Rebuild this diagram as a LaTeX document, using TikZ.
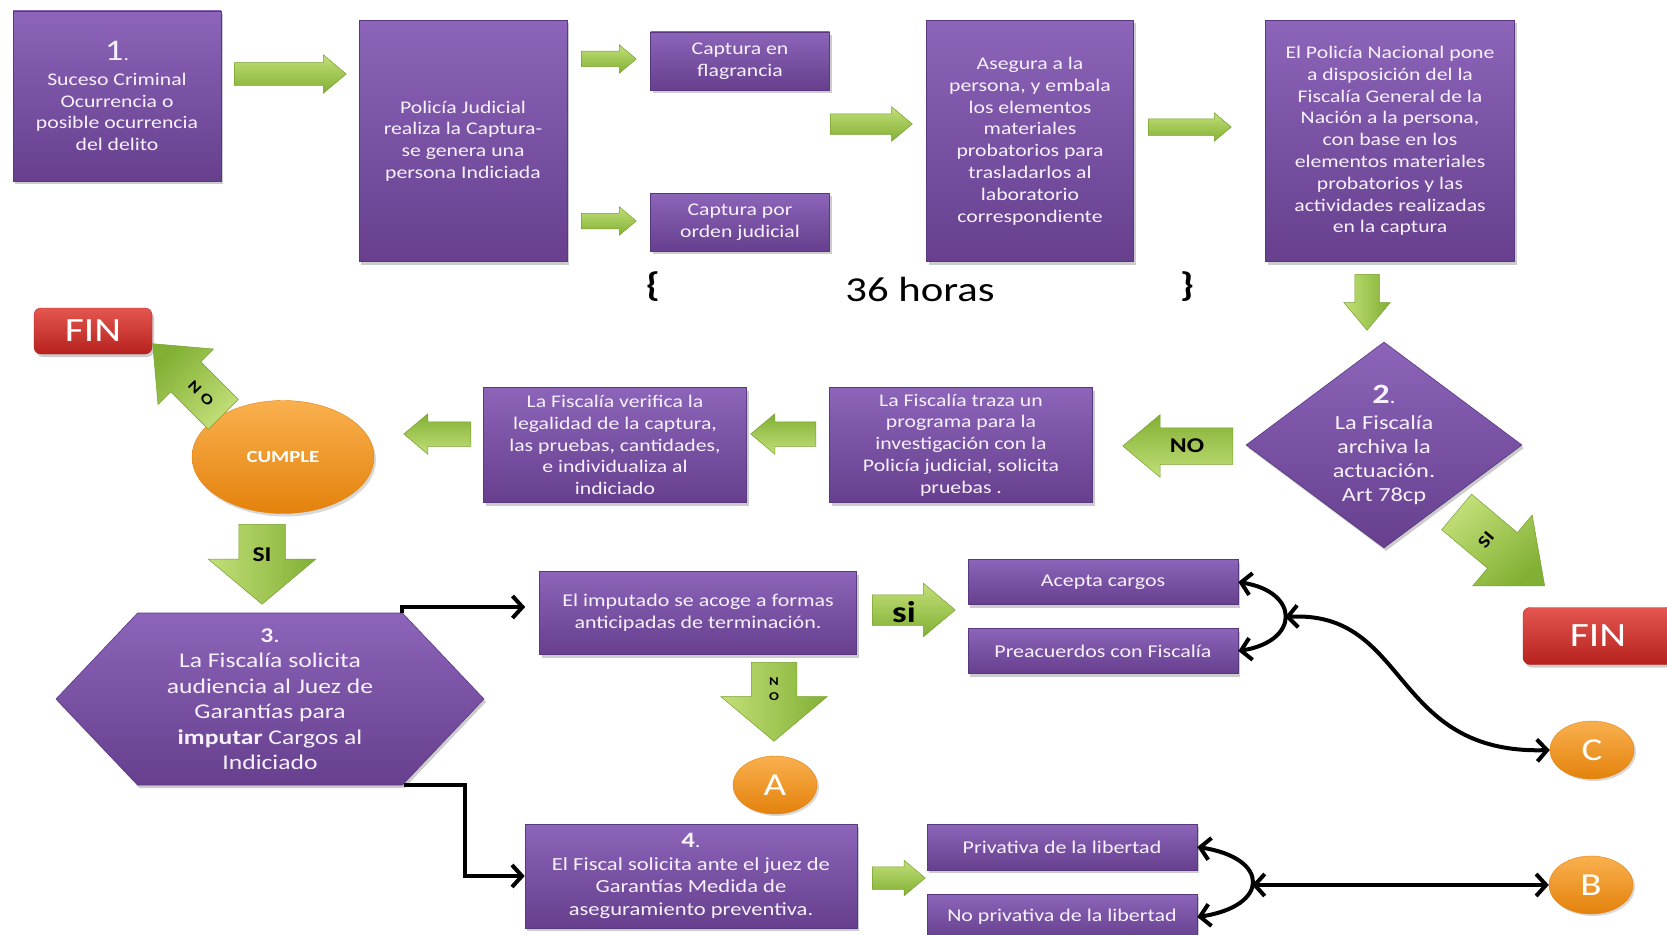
\documentclass[tikz,border=0pt]{standalone}
\usepackage{fontspec}
\setmainfont{Carlito}[FakeStretch=1.22]
\usetikzlibrary{shapes.geometric,shapes.arrows,shapes.symbols,shadows,arrows.meta,calc}

\definecolor{moradoalto}{HTML}{8C64B9}
\definecolor{moradobajo}{HTML}{673F8E}
\definecolor{moradoborde}{HTML}{5A3880}
\definecolor{textocaja}{HTML}{F6F1FB}
\definecolor{verdealto}{HTML}{C2DF78}
\definecolor{verdebajo}{HTML}{82B034}
\definecolor{verdeborde}{HTML}{76A02E}
\definecolor{naranjaalto}{HTML}{F9B04E}
\definecolor{naranjabajo}{HTML}{E4820C}
\definecolor{rojoalto}{HTML}{E4564F}
\definecolor{rojobajo}{HTML}{B6221E}

\tikzset{
  caja/.style 2 args={rectangle, draw=moradoborde, line width=0.6pt,
    top color=moradoalto, bottom color=moradobajo, text=textocaja,
    align=center, inner sep=2pt, minimum width=#1, minimum height=#2,
    drop shadow={shadow xshift=2pt, shadow yshift=-3pt, opacity=.4}},
  t18/.style={font=\fontsize{17.8}{21.8}\selectfont},
  flecha/.style n args={3}{single arrow, draw=verdeborde, line width=0.5pt,
    top color=verdealto, bottom color=verdebajo, minimum height=#1, minimum width=#2,
    inner xsep=0pt, inner ysep=#3/2, single arrow head extend={(#2-#3)/2},
    single arrow tip angle=80, single arrow head indent=0pt},
  rotulo/.style={font=\bfseries\fontsize{21}{21}\selectfont, text=black, inner sep=0pt},
  fin/.style={rectangle, rounded corners=7pt, draw=rojobajo, top color=rojoalto,
    bottom color=rojobajo, text=white, font=\fontsize{34}{34}\selectfont,
    minimum width=118pt, minimum height=46pt,
    drop shadow={shadow xshift=2pt, shadow yshift=-3pt, opacity=.4}},
  letra/.style={ellipse, draw=naranjabajo, top color=naranjaalto, bottom color=naranjabajo,
    text=white, font=\fontsize{32}{32}\selectfont, inner sep=0pt,
    minimum width=84pt, minimum height=58pt,
    drop shadow={shadow xshift=2pt, shadow yshift=-2pt, opacity=.3}},
  conector/.style={line width=4pt, -{Straight Barb[length=10pt,width=22pt]}},
  dobleconector/.style={line width=4pt, {Straight Barb[length=10pt,width=22pt]}-{Straight Barb[length=10pt,width=22pt]}}
}

\begin{document}
\begin{tikzpicture}[x=1pt,y=1pt]
\fill[white] (0,0) rectangle (1667,-934);
\useasboundingbox (0,0) rectangle (1667,-934);

\node[caja={208pt}{170pt},t18] (b1) at (117,-96)
  {{\fontsize{30}{30}\selectfont 1}.\\[3pt]Suceso Criminal\\Ocurrencia o\\posible ocurrencia\\del delito};
\node[caja={208pt}{241pt},t18] (b2) at (463,-141)
  {Policía Judicial\\realiza la Captura-\\se genera una\\persona Indiciada};
\node[caja={179pt}{58pt},t18] (flag) at (740,-61) {Captura en\\flagrancia};
\node[caja={179pt}{58pt},t18] (orden) at (740,-222) {Captura por\\orden judicial};
\node[caja={207pt}{241pt},t18] (aseg) at (1030,-141)
  {Asegura a la\\persona,  y embala\\los elementos\\materiales\\probatorios  para\\trasladarlos  al\\laboratorio\\correspondiente};
\node[caja={249pt}{241pt},t18] (pnac) at (1390,-141)
  {El Policía Nacional pone\\a disposición del la\\Fiscalía General de la\\Nación a la persona,\\con base en los\\elementos materiales\\probatorios  y las\\actividades realizadas\\en la captura};

\node[font=\fontsize{35}{35}\selectfont] (horas) at (920,-289) {36 horas};
\node[font=\bfseries\fontsize{34}{34}\selectfont] (llavei) at (653,-287) {\{};
\node[font=\bfseries\fontsize{34}{34}\selectfont] (llaved) at (1187,-287) {\}};

\node[flecha={112pt}{38pt}{22pt},anchor=tail] (f1) at (234,-74) {};
\node[flecha={55pt}{28pt}{15pt},anchor=tail] (f2a) at (581,-59) {};
\node[flecha={55pt}{28pt}{15pt},anchor=tail] (f2b) at (581,-221) {};
\node[flecha={82pt}{34pt}{20pt},anchor=tail] (f3) at (830,-124) {};
\node[flecha={83pt}{28pt}{16pt},anchor=tail] (f4) at (1148,-127) {};
\node[flecha={56pt}{46pt}{24pt},rotate=-90,shading angle=90,anchor=tail] (f5) at (1367,-274) {};

\node[diamond, draw=moradoborde, line width=0.6pt, top color=moradoalto, bottom color=moradobajo,
  text=textocaja, align=center, inner sep=0pt, aspect=1.34, minimum width=276pt, minimum height=206pt,
  font=\fontsize{20}{24}\selectfont,
  drop shadow={shadow xshift=2pt, shadow yshift=-3pt, opacity=.4}] (d2) at (1384,-445)
  {{\bfseries\fontsize{28}{28}\selectfont 2}.\\[2pt]La Fiscalía\\archiva la\\actuación.\\Art 78cp};

\node[flecha={110pt}{62pt}{36pt},rotate=180,shading angle=180,anchor=tail] (fno1) at (1233,-446) {};
\node[rotulo] (lno1) at (1187,-446) {NO};
\node[caja={263pt}{115pt},t18] (traza) at (961,-445)
  {La Fiscalía traza un\\programa  para la\\investigación con la\\Policía judicial, solicita\\pruebas .};
\node[flecha={65pt}{40pt}{24pt},rotate=180,shading angle=180,anchor=tail] (f6) at (816,-434) {};
\node[caja={263pt}{115pt},t18] (verif) at (615,-445)
  {La Fiscalía verifica la\\legalidad de la  captura,\\las pruebas, cantidades,\\e individualiza al\\indiciado};
\node[flecha={67pt}{40pt}{24pt},rotate=180,shading angle=180,anchor=tail] (f7) at (471,-434) {};

\node[ellipse, draw=naranjabajo, top color=naranjaalto, bottom color=naranjabajo, text=white,
  minimum width=182pt, minimum height=113pt, font=\bfseries\fontsize{17}{17}\selectfont,
  drop shadow={shadow xshift=2pt, shadow yshift=-3pt, opacity=.3}] (cumple) at (283,-457) {CUMPLE};
\node[fin] (fin1) at (93,-331) {FIN};
\node[flecha={100pt}{78pt}{42pt},rotate=135,shading angle=-135] (fno2) at (197,-388) {};
\node[rotulo,rotate=-45,font=\bfseries\fontsize{15}{15}\selectfont] (lno2) at (201,-393) {N\hspace{5pt}O};
\node[flecha={115pt}{92pt}{46pt},rotate=-40,shading angle=40] (fsi2) at (1490,-540) {};
\node[rotulo,rotate=50,font=\bfseries\fontsize{17}{17}\selectfont] (lsi2) at (1486,-540) {SI};
\node[fin,minimum width=150pt,minimum height=57pt] (fin2) at (1598,-636) {FIN};

\node[flecha={80pt}{107pt}{46pt},rotate=-90,shading angle=90,single arrow tip angle=100,anchor=tail] (fsi1) at (262,-524) {};
\node[rotulo] (lsi1) at (262,-555) {SI};

\node[shape=signal, signal to=east and west, signal pointer angle=93, draw=moradoborde, line width=0.6pt,
  top color=moradoalto, bottom color=moradobajo, text=textocaja, align=center,
  minimum width=428pt, minimum height=172pt, font=\fontsize{21}{25.5}\selectfont,
  drop shadow={shadow xshift=2pt, shadow yshift=-3pt, opacity=.4}] (h3) at (270,-699)
  {{\bfseries 3}.\\La Fiscalía solicita\\audiencia al Juez de\\Garantías para\\\textbf{imputar} Cargos al\\Indiciado};

\node[caja={317pt}{83pt},font=\fontsize{18}{22}\selectfont] (imp) at (698,-613)
  {El imputado  se acoge a formas\\anticipadas de terminación.};
\node[flecha={83pt}{53pt}{30pt},anchor=tail] (fsi3) at (872,-610) {};
\node[rotulo,font=\bfseries\fontsize{30}{30}\selectfont] (lsi3) at (904,-612) {si};
\node[caja={270pt}{45pt},font=\fontsize{18}{22}\selectfont] (acep) at (1103,-582) {Acepta cargos};
\node[caja={270pt}{45pt},font=\fontsize{18}{22}\selectfont] (prea) at (1103,-651) {Preacuerdos con Fiscalía};

\node[flecha={79pt}{106pt}{45pt},rotate=-90,shading angle=90,single arrow tip angle=100,anchor=tail] (fno3) at (774,-662) {};
\node[rotulo,align=center,font=\bfseries\fontsize{12}{15}\selectfont] (lno3) at (774,-689) {N\\O};
\node[letra] (cA) at (775,-785) {A};

\node[caja={332pt}{104pt},font=\fontsize{18.5}{22.5}\selectfont] (b4) at (691,-876)
  {{\bfseries\fontsize{22}{22}\selectfont 4}.\\El Fiscal  solicita  ante el juez de\\Garantías Medida de\\aseguramiento preventiva.};
\node[flecha={53pt}{35pt}{22pt},anchor=tail] (f8) at (872,-878) {};
\node[caja={270pt}{46pt},font=\fontsize{18}{22}\selectfont] (priv) at (1062,-847) {Privativa de la libertad};
\node[caja={270pt}{46pt},font=\fontsize{18}{22}\selectfont] (nopriv) at (1062,-917) {No privativa de la libertad};

\node[letra] (cC) at (1592,-750) {C};
\node[letra] (cB) at (1591,-885) {B};

\path
  ($(h3.center)+(132,86)$) coordinate(h3ne)
  ($(h3.center)+(134,-86)$) coordinate(h3se)
  (1285,-617) coordinate(jac)
  (1252,-885) coordinate(jpr);

\draw[conector,shorten >=14pt] (h3ne) -- ++(0,6) -- (imp.west|-0,-607);
\draw[conector] (h3se) -- ++(61,0) |- (b4.west);
\draw[dobleconector] (acep.east) .. controls (1300,-592) and (1300,-641) .. (prea.east);
\draw[dobleconector] (jac) .. controls (1410,-610) and (1390,-755) .. (cC.west);
\draw[dobleconector] (priv.east) .. controls (1270,-858) and (1270,-906) .. (nopriv.east);
\draw[dobleconector] (jpr) -- (cB.west);
\end{tikzpicture}
\end{document}
